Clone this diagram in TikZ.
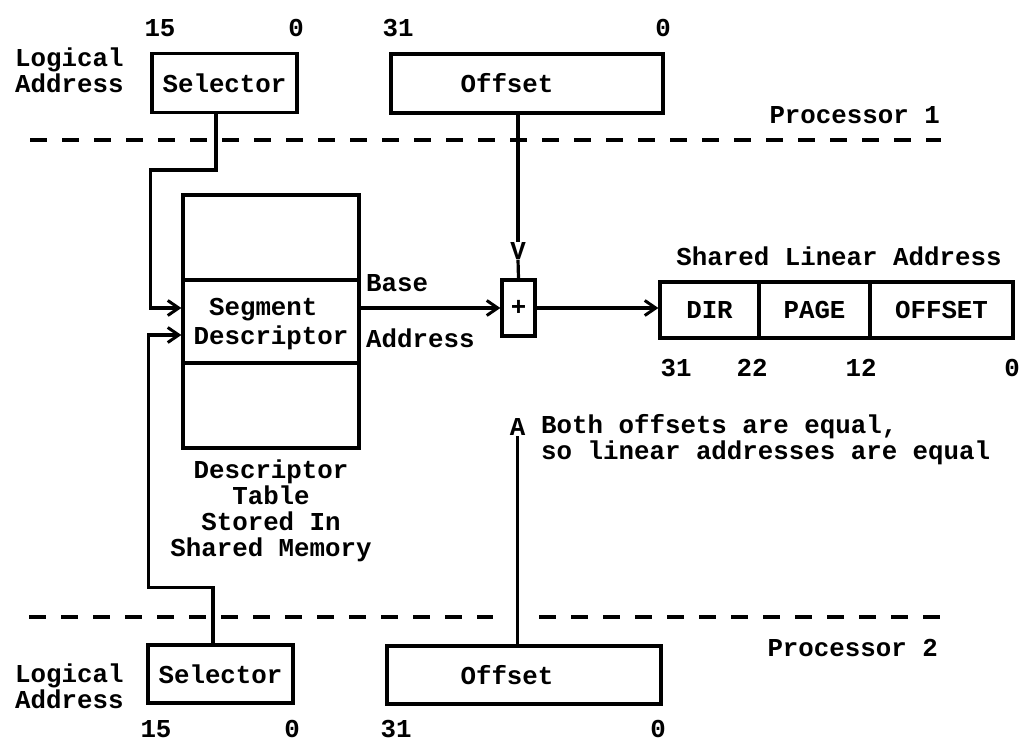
\documentclass[tikz,border=0pt]{standalone}
\usepackage{fontspec}
\setmonofont{Liberation Mono}
\usetikzlibrary{arrows.meta,calc}
\begin{document}
\begin{tikzpicture}[x=1pt,y=-1pt,
  every node/.style={font=\fontsize{25.8}{26}\selectfont\ttfamily\bfseries, inner sep=0pt},
  box/.style={draw, line width=3.2pt, rectangle},
  conn/.style={line width=3.2pt},
  arr/.style={conn, -{Straight Barb[length=11pt,width=15pt,line width=3pt]}},
  divline/.style={line width=3.8pt, dash pattern=on 17pt off 15pt}]
\useasboundingbox (0,0) rectangle (1022,743);

% ---------- Processor 1 ----------
\node[box, minimum width=145pt, minimum height=59pt] (sel1) at (224.5,83) {Selector};
\node[box, minimum width=272pt, minimum height=59pt] (off1) at (527,83.5) {};
\node (off1t) at (507,83.5) {Offset};
\node[align=left, anchor=west] (la1) at (15,70) {Logical\\Address};
\node (n15a) at (160,28) {15};
\node (n0a) at (296,28) {0};
\node (n31a) at (398,28) {31};
\node (n0b) at (663,28) {0};
\node[anchor=east] (p1) at (940,115) {Processor 1};
\draw[divline] (30,140) -- (941,140);

% ---------- Descriptor table ----------
\node[box, minimum width=176pt, minimum height=85pt] (dt1) at (271,237.5) {};
\node[box, minimum width=176pt, minimum height=83pt] (dt2) at (271,321.5) {};
\node[box, minimum width=176pt, minimum height=85pt] (dt3) at (271,405.5) {};
\node[align=left] (segtxt) at (271,324) {\phantom{D}Segment\\[3pt]Descriptor};
\node[align=center] (cap) at (271,511) {Descriptor\\Table\\Stored In\\Shared Memory};
\node[anchor=west] (base) at (366,283) {Base};
\node[anchor=west] (baddr) at (366,338) {Address};

% ---------- adder and linear address ----------
\node[box, minimum width=33pt, minimum height=56pt] (plus) at (518.5,308) {+};
\node (V) at (518,251) {V};
\node[box, minimum width=99pt, minimum height=56pt] (lin1) at (709.5,310) {DIR};
\node[box, minimum width=111pt, minimum height=56pt] (lin2) at (814.5,310) {PAGE};
\node[box, minimum width=143pt, minimum height=56pt] (lin3) at (941.5,310) {OFFSET};
\node (sla) at (839,256) {Shared Linear Address};
\node (l31) at (676,368) {31};
\node (l22) at (752,368) {22};
\node (l12) at (861,368) {12};
\node (l0) at (1012,368) {0};

\node (A) at (517.5,427) {A};
\node[align=left, anchor=west] (note) at (541,440) {Both offsets are equal,\\so linear addresses are equal};

% ---------- Processor 2 ----------
\draw[divline] (29,617) -- (493,617);
\draw[divline] (539,617) -- (940,617);
\node[anchor=east] (p2) at (938,648) {Processor 2};
\node[box, minimum width=145pt, minimum height=58pt] (sel2) at (220.5,674) {Selector};
\node[box, minimum width=274pt, minimum height=58pt] (off2) at (524,675) {};
\node (off2t) at (507,675) {Offset};
\node[align=left, anchor=west] (la2) at (15,686) {Logical\\Address};
\node (n15c) at (156,729) {15};
\node (n0c) at (292,729) {0};
\node (n31c) at (396,729) {31};
\node (n0d) at (658,729) {0};

% ---------- connectors ----------
\coordinate (in1) at ([yshift=13.5pt]dt2.west);
\coordinate (in2) at ([yshift=-13.5pt]dt2.west);
\draw[arr] ([xshift=-8.5pt]sel1.south) -- ++(0,56) -| ([xshift=-31pt]in1) -- (in1);
\draw[arr] ([xshift=-7.5pt]sel2.north) -- ++(0,-56) -| ([xshift=-33pt]in2) -- (in2);
\draw[conn] ([xshift=-9pt]off1.south) -- (V.north);
\draw[conn] (V.south) -- (plus.north);
\draw[arr] (in1 -| dt2.east) -- (in1 -| plus.west);
\draw[arr] (plus.east) -- (plus.east -| lin1.west);
\draw[conn] ([xshift=-6.5pt]off2.north) -- (A.south);
\end{tikzpicture}
\end{document}
